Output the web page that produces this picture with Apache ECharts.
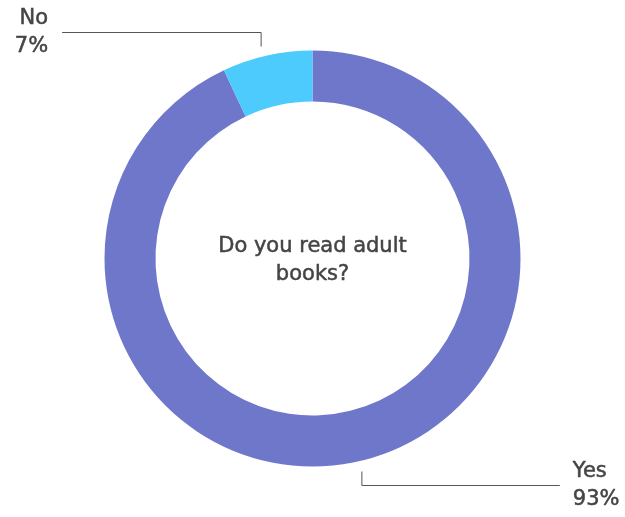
<!DOCTYPE html>
<html>
<head>
<meta charset="utf-8">
<script src="https://cdn.jsdelivr.net/npm/echarts@6/dist/echarts.min.js"></script>
<style>
  html, body { margin: 0; padding: 0; background: #fff; }
  #chart { width: 625px; height: 517px; }
</style>
</head>
<body>
<div id="chart"></div>
<script>
  // answers and their share in percent
  var categories = ['Yes', 'No'];
  var values = [93, 7];
  var colors = ['#6f77ca', '#4ccbfc'];
  var question = 'Do you read adult\nbooks?';

  var font = 'DejaVu Sans';
  var textColor = '#444';

  var chart = echarts.init(document.getElementById('chart'));

  var data = categories.map(function (name, i) {
    return { name: name, value: values[i], itemStyle: { color: colors[i] } };
  });

  var option = {
    animation: false,
    graphic: [
      {
        type: 'text',
        x: chart.getWidth() / 2,
        y: chart.getHeight() / 2 + 2,
        silent: true,
        style: {
          text: question,
          textAlign: 'center',
          textVerticalAlign: 'middle',
          fontFamily: font,
          fontSize: 21,
          fill: textColor,
          stroke: textColor,
          lineWidth: 0.5,
          lineHeight: 28
        }
      }
    ],
    series: [
      {
        type: 'pie',
        center: ['50%', '50%'],
        radius: [157, 208],
        startAngle: 90,
        clockwise: true,
        avoidLabelOverlap: false,
        silent: true,
        data: data,
        label: {
          show: true,
          formatter: function (p) { return p.name + '\n' + p.value + '%'; },
          fontFamily: font,
          fontSize: 21,
          color: textColor,
          textBorderColor: textColor,
          textBorderWidth: 0.5,
          lineHeight: 28
        },
        labelLine: {
          show: true,
          length: 10,
          length2: 190,
          lineStyle: { color: '#555', width: 1 }
        },
        labelLayout: function (params) {
          var p0 = params.labelLinePoints[0];
          if (params.dataIndex === 1) {
            // "No" goes up then left
            var x = p0[0] - 6;
            var a = [x, p0[1] - 9], b = [x, p0[1] - 23], c = [x - 199, p0[1] - 23];
            return {
              x: c[0] - 14, y: c[1], align: 'right', verticalAlign: 'middle',
              labelLinePoints: [a, b, c]
            };
          }
          var x2 = p0[0] + 4;
          var a2 = [x2, p0[1] + 10], b2 = [x2, p0[1] + 24], c2 = [x2 + 198, p0[1] + 24];
          return {
            x: c2[0] + 13, y: c2[1], align: 'left', verticalAlign: 'middle',
            labelLinePoints: [a2, b2, c2]
          };
        }
      }
    ]
  };

  chart.setOption(option);
</script>
</body>
</html>
